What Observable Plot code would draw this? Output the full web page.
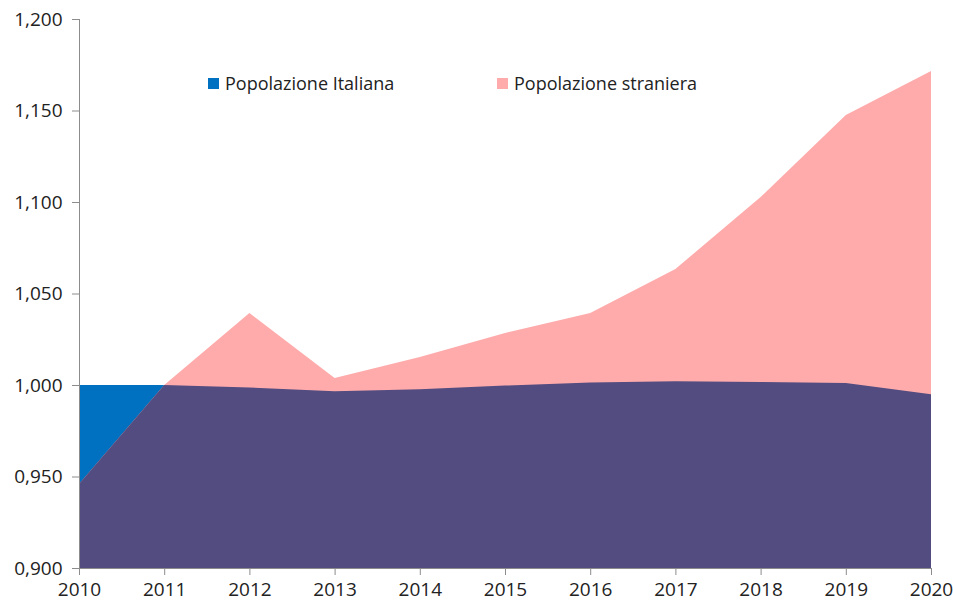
<!DOCTYPE html>
<html>
<head>
<meta charset="utf-8">
<script src="https://cdn.jsdelivr.net/npm/d3@7"></script>
<script src="https://cdn.jsdelivr.net/npm/@observablehq/plot@0.6"></script>
<style>
  html, body { margin: 0; padding: 0; background: #fff; }
  #wrap { position: relative; width: 953px; height: 605px; font-family: "Open Sans", "Liberation Sans", sans-serif; }
  .legend { position: absolute; top: 71px; display: flex; align-items: center; font-size: 18px; color: #222; }
  .sw { width: 11px; height: 11px; margin-right: 6px; }
</style>
</head>
<body>
<div id="wrap"></div>
<script>
const years = [2010, 2011, 2012, 2013, 2014, 2015, 2016, 2017, 2018, 2019, 2020];
const italiana = [1.000, 1.000, 0.9986, 0.9966, 0.9977, 0.9997, 1.0013, 1.0020, 1.0017, 1.0011, 0.9950];
const straniera = [0.9459, 1.000, 1.0393, 1.0038, 1.0153, 1.0284, 1.0393, 1.0634, 1.1027, 1.1475, 1.1716];
const yTicks = [0.9, 0.95, 1.0, 1.05, 1.1, 1.15, 1.2];
const seriesNames = ["Popolazione Italiana", "Popolazione straniera"];
const colors = { ita: "#0070C0", str: "#FFABAB", both: "#524C80" };

const data = years.map((y, i) => ({ year: y, ita: italiana[i], str: straniera[i], both: Math.min(italiana[i], straniera[i]) }));

const chart = Plot.plot({
  width: 953,
  height: 605,
  marginLeft: 79,
  marginRight: 22,
  marginTop: 19,
  marginBottom: 37,
  style: { fontFamily: "'Open Sans', 'Liberation Sans', sans-serif", fontSize: "19px", color: "#222", background: "#fff" },
  x: { type: "linear", domain: [2010, 2020], label: null },
  y: { domain: [0.9, 1.2], label: null },
  marks: [
    Plot.areaY(data, { x: "year", y1: 0.9, y2: "ita", fill: colors.ita, curve: "linear" }),
    Plot.areaY(data, { x: "year", y1: 0.9, y2: "str", fill: colors.str, curve: "linear" }),
    Plot.areaY(data, { x: "year", y1: 0.9, y2: "both", fill: colors.both, curve: "linear" }),
    Plot.ruleX([2010], { stroke: "#8c8c8c" }),
    Plot.ruleY([0.9], { stroke: "#8c8c8c" }),
    Plot.axisX({ ticks: years, tickFormat: d => String(d), tickSize: 7, tickPadding: 7, stroke: "#8c8c8c", fontSize: 19, fill: "#222" }),
    Plot.axisY({ ticks: yTicks, tickFormat: d => d.toFixed(3).replace(".", ","), tickSize: 7, tickPadding: 10, stroke: "#8c8c8c", fontSize: 19, fill: "#222" })
  ]
});
const wrap = document.getElementById("wrap");
wrap.appendChild(chart);

const legendItems = [
  { name: seriesNames[0], color: colors.ita, left: 208 },
  { name: seriesNames[1], color: colors.str, left: 497 }
];
for (const it of legendItems) {
  const d = document.createElement("div");
  d.className = "legend";
  d.style.left = it.left + "px";
  const sw = document.createElement("span");
  sw.className = "sw";
  sw.style.background = it.color;
  const t = document.createElement("span");
  t.textContent = it.name;
  d.appendChild(sw);
  d.appendChild(t);
  wrap.appendChild(d);
}
</script>
</body>
</html>
